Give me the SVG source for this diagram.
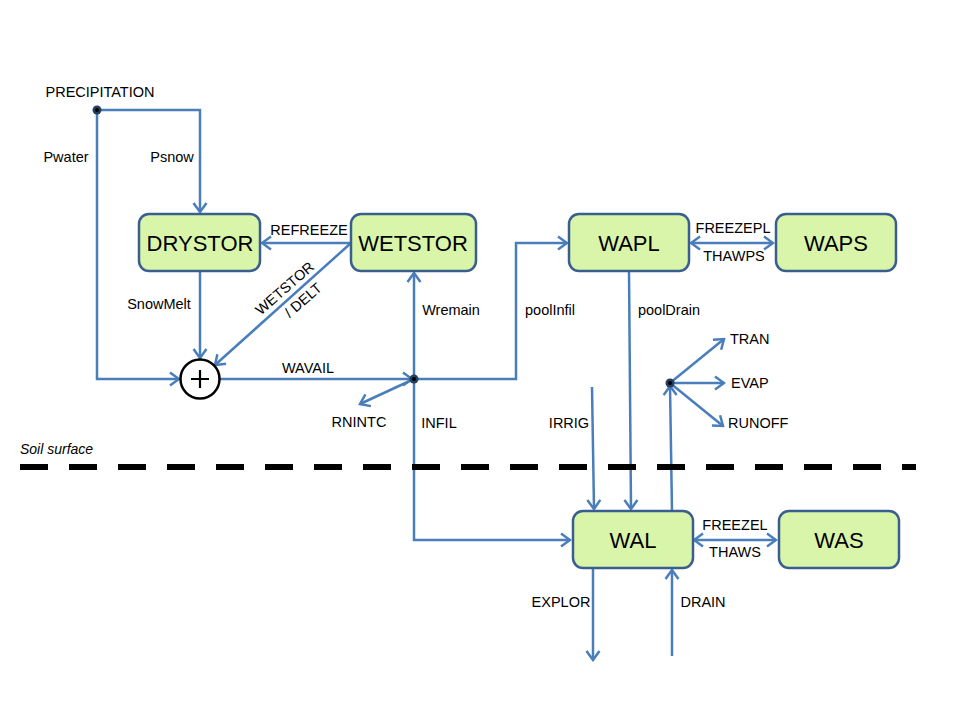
<svg xmlns="http://www.w3.org/2000/svg" width="960" height="720" viewBox="0 0 960 720">
<defs>
<style>
.node rect{fill:#d9f5a9;stroke:#3a5f8e;stroke-width:2.5}
.node text{font-family:"Liberation Sans",Arial,sans-serif;font-size:22px;fill:#000;text-anchor:middle}
.c{fill:none;stroke:#4a7ebb;stroke-width:2.5}
.lbl{font-family:"Liberation Sans",Arial,sans-serif;font-size:14.5px;fill:#000}
.m{text-anchor:middle}
.dot{fill:#243f60}
</style>
<marker id="ah" viewBox="-12 -8 14 16" refX="0" refY="0" markerWidth="14" markerHeight="16" markerUnits="userSpaceOnUse" orient="auto-start-reverse">
<path d="M-9,-6.5 L0,0 L-9,6.5" fill="none" stroke="#4a7ebb" stroke-width="2.5"/>
</marker>
</defs>
<rect width="960" height="720" fill="#fff"/>

<g id="connectors">
<path class="c" d="M97,110 H200 V212" marker-end="url(#ah)"/>
<path class="c" d="M97,110 V379 H179" marker-end="url(#ah)"/>
<path class="c" d="M200,271 V358" marker-end="url(#ah)"/>
<path class="c" d="M351,243 H262" marker-end="url(#ah)"/>
<path class="c" d="M351,243 L215,365" marker-end="url(#ah)"/>
<path class="c" d="M220,379 H412" marker-end="url(#ah)"/>
<path class="c" d="M414,379 V273" marker-end="url(#ah)"/>
<path class="c" d="M414,379 L360,404" marker-end="url(#ah)"/>
<path class="c" d="M414,379 V540 H570" marker-end="url(#ah)"/>
<path class="c" d="M414,379 H516 V243 H567" marker-end="url(#ah)"/>
<path class="c" d="M629,271 L631,509" marker-end="url(#ah)"/>
<path class="c" d="M691,243 H773" marker-start="url(#ah)" marker-end="url(#ah)"/>
<path class="c" d="M592,387 L594,509" marker-end="url(#ah)"/>
<path class="c" d="M672,511 L670,386" marker-end="url(#ah)"/>
<path class="c" d="M670,383 L724,339" marker-end="url(#ah)"/>
<path class="c" d="M670,383 H724" marker-end="url(#ah)"/>
<path class="c" d="M670,383 L723,426" marker-end="url(#ah)"/>
<path class="c" d="M694,540 H776" marker-start="url(#ah)" marker-end="url(#ah)"/>
<path class="c" d="M593,568 V660" marker-end="url(#ah)"/>
<path class="c" d="M672,656 V570" marker-end="url(#ah)"/>
</g>

<g id="junctions">
<circle class="dot" cx="97" cy="110" r="4.5"/><circle cx="97" cy="110" r="2" fill="#000"/>
<circle class="dot" cx="414" cy="379" r="4.5"/><circle cx="414" cy="379" r="2" fill="#000"/>
<circle class="dot" cx="670" cy="383" r="4.5"/><circle cx="670" cy="383" r="2" fill="#000"/>
</g>

<g id="sum">
<circle cx="200" cy="379" r="19.5" fill="#fff" stroke="#000" stroke-width="2.5"/>
<path d="M191,379 H209 M200,370 V388" stroke="#000" stroke-width="2.2" fill="none"/>
</g>

<g id="DRYSTOR" class="node"><rect x="139" y="214" width="121" height="57" rx="10"/><text x="200" y="251">DRYSTOR</text></g>
<g id="WETSTOR" class="node"><rect x="351" y="214" width="125" height="57" rx="10"/><text x="413" y="251">WETSTOR</text></g>
<g id="WAPL" class="node"><rect x="569" y="214" width="120" height="57" rx="10"/><text x="629" y="251">WAPL</text></g>
<g id="WAPS" class="node"><rect x="776" y="214" width="120" height="57" rx="10"/><text x="836" y="251">WAPS</text></g>
<g id="WAL" class="node"><rect x="573" y="511" width="120" height="57" rx="10"/><text x="633" y="548">WAL</text></g>
<g id="WAS" class="node"><rect x="779" y="511" width="120" height="57" rx="10"/><text x="839" y="548">WAS</text></g>

<g id="soil">
<path d="M20,467 H916" stroke="#000" stroke-width="6" stroke-dasharray="28 21" fill="none"/>
<text x="20" y="454" font-family="'Liberation Sans',Arial,sans-serif" font-size="14" font-style="italic">Soil surface</text>
</g>

<g id="labels">
<text class="lbl m" x="100" y="97">PRECIPITATION</text>
<text class="lbl m" x="66" y="162">Pwater</text>
<text class="lbl m" x="172" y="162">Psnow</text>
<text class="lbl m" x="309" y="235">REFREEZE</text>
<text class="lbl m" x="159" y="309">SnowMelt</text>
<g transform="translate(288,292) rotate(-41)">
<text class="lbl m" x="0" y="0">WETSTOR</text>
<text class="lbl m" x="6" y="21">/ DELT</text>
</g>
<text class="lbl m" x="451" y="315">Wremain</text>
<text class="lbl m" x="308" y="373">WAVAIL</text>
<text class="lbl m" x="550" y="315">poolInfil</text>
<text class="lbl m" x="669" y="315">poolDrain</text>
<text class="lbl m" x="733" y="233">FREEZEPL</text>
<text class="lbl m" x="734" y="261">THAWPS</text>
<text class="lbl" x="730" y="344">TRAN</text>
<text class="lbl" x="731" y="388">EVAP</text>
<text class="lbl" x="728" y="428">RUNOFF</text>
<text class="lbl m" x="569" y="428">IRRIG</text>
<text class="lbl m" x="439" y="428">INFIL</text>
<text class="lbl m" x="359" y="427">RNINTC</text>
<text class="lbl m" x="735" y="530">FREEZEL</text>
<text class="lbl m" x="735" y="557">THAWS</text>
<text class="lbl m" x="561" y="607">EXPLOR</text>
<text class="lbl m" x="703" y="607">DRAIN</text>
</g>
</svg>
